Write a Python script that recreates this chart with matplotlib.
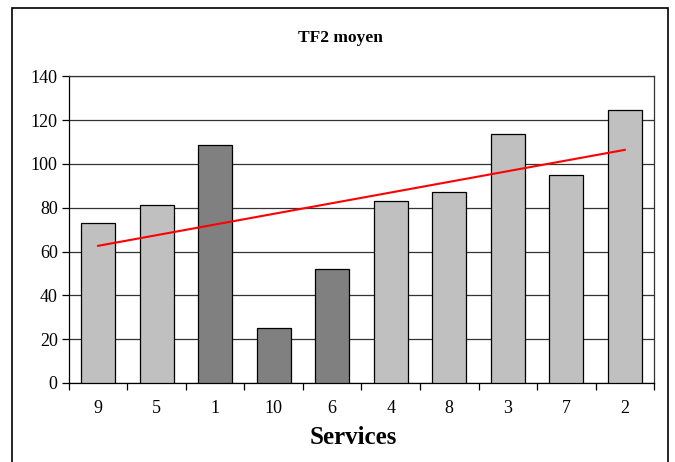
import numpy as np
import matplotlib.pyplot as plt
from matplotlib.patches import Rectangle

services = ['9', '5', '1', '10', '6', '4', '8', '3', '7', '2']
tf2 = [73, 81.4, 108.7, 24.9, 51.8, 83.1, 87.2, 113.7, 95.1, 124.6]
dark = [False, False, True, True, True, False, False, False, False, False]
trend_ends = [62.6, 106.4]  # linear trend, first and last service

plt.rcParams['font.family'] = ['Liberation Serif', 'DejaVu Serif']

fig = plt.figure(figsize=(6.75, 4.62), dpi=100)
ax = fig.add_axes([0.102, 0.171, 0.867, 0.664])

x = np.arange(len(services))
colors = ['#808080' if d else '#C0C0C0' for d in dark]
ax.bar(x, tf2, width=0.58, color=colors, edgecolor='black', linewidth=0.9, zorder=3)
ax.plot([x[0], x[-1]], trend_ends, color='red', linewidth=1.5, zorder=4)

ax.set_xlim(-0.5, len(services) - 0.5)
ax.set_ylim(0, 140)
ax.set_yticks(range(0, 141, 20))
ax.yaxis.grid(True, color='#333333', linewidth=0.9, zorder=0)
ax.set_axisbelow(True)

ax.set_xticks(x)
ax.set_xticklabels(services)
ax.set_xticks(np.arange(-0.5, len(services)), minor=True)
ax.tick_params(axis='x', which='major', length=0, labelsize=13, pad=12)
ax.tick_params(axis='x', which='minor', length=5, direction='out', width=0.9)
ax.tick_params(axis='y', length=5, direction='out', width=0.9, labelsize=13, pad=3)

for s in ['top', 'right']:
    ax.spines[s].set_color('#333333')
for s in ax.spines.values():
    s.set_linewidth(0.9)

ax.set_xlabel('Services', fontsize=18, fontweight='bold')
ax.xaxis.set_label_coords(0.486, -0.178)
ax.xaxis.label.set_va('center')
fig.text(0.504, 0.918, 'TF2 moyen', ha='center', va='center', fontsize=12.5, fontweight='bold')

border = Rectangle((12 / 675, -0.1), 656 / 675, 1.1 - 8 / 462, transform=fig.transFigure,
                   fill=False, edgecolor='black', linewidth=1.2, clip_on=False)
fig.patches.append(border)

fig.savefig('out.png', dpi=100)
